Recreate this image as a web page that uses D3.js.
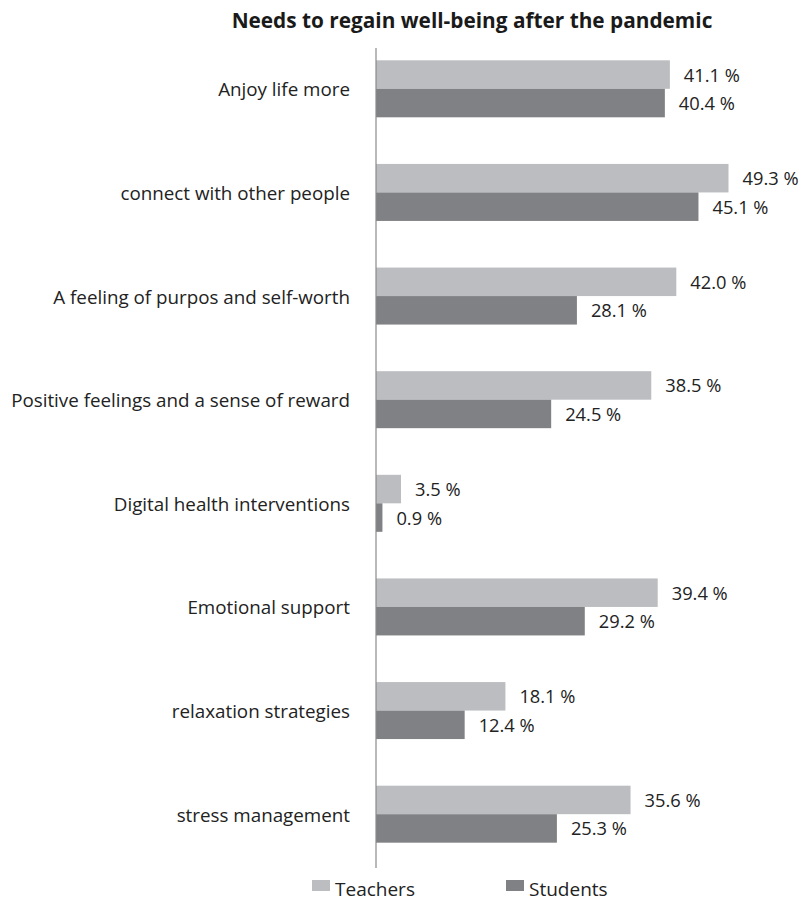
<!DOCTYPE html>
<html>
<head>
<meta charset="utf-8">
<script src="https://cdn.jsdelivr.net/npm/d3@7"></script>
<style>
  html, body { margin: 0; padding: 0; background: #fff; }
  svg { display: block; }
</style>
</head>
<body>
<svg id="chart" width="805" height="904"></svg>
<script>
// Survey categories and percentages per group
const categories = [
  "Anjoy life more",
  "connect with other people",
  "A feeling of purpos and self-worth",
  "Positive feelings and a sense of reward",
  "Digital health interventions",
  "Emotional support",
  "relaxation strategies",
  "stress management"
];
const teachers = [41.1, 49.3, 42.0, 38.5, 3.5, 39.4, 18.1, 35.6];
const students = [40.4, 45.1, 28.1, 24.5, 0.9, 29.2, 12.4, 25.3];
const seriesNames = ["Teachers", "Students"];
const seriesColors = ["#bcbdc0", "#808184"];

const font = "'Open Sans', 'Noto Sans', sans-serif";
const svg = d3.select("#chart");

const x = d3.scaleLinear().domain([0, 60]).range([376, 805]);
const y = d3.scaleBand().domain(categories).range([37, 866])
  .paddingInner(0.45).paddingOuter(0.225);
const sub = d3.scaleBand().domain(seriesNames).range([0, y.bandwidth()]);

// Title
svg.append("text")
  .attr("x", 472).attr("y", 28)
  .attr("text-anchor", "middle")
  .attr("font-family", font)
  .attr("font-weight", "bold")
  .attr("font-size", 20.8)
  .attr("fill", "#1a1a1a")
  .text("Needs to regain well-being after the pandemic");

const rows = categories.map((c, i) => ({ cat: c, values: [teachers[i], students[i]] }));

const groups = svg.append("g").selectAll("g")
  .data(rows).join("g")
  .attr("transform", d => `translate(0,${y(d.cat)})`);

groups.selectAll("rect")
  .data(d => d.values.map((v, j) => ({ v, s: seriesNames[j], j })))
  .join("rect")
  .attr("x", x(0))
  .attr("y", d => sub(d.s))
  .attr("width", d => x(d.v) - x(0))
  .attr("height", sub.bandwidth())
  .attr("fill", d => seriesColors[d.j]);

groups.selectAll("text.val")
  .data(d => d.values.map((v, j) => ({ v, s: seriesNames[j] })))
  .join("text")
  .attr("class", "val")
  .attr("x", d => x(d.v) + 14)
  .attr("y", d => sub(d.s) + sub.bandwidth() / 2 + 7)
  .attr("font-family", font)
  .attr("font-size", 18.3)
  .attr("fill", "#222")
  .text(d => d3.format(".1f")(d.v) + " %");

// Category labels
const yAxis = d3.axisLeft(y).tickSize(0).tickPadding(0);
const ax = svg.append("g").attr("transform", `translate(350,0)`).call(yAxis);
ax.select(".domain").remove();
ax.selectAll("text")
  .attr("font-family", font)
  .attr("font-size", 18.8)
  .attr("fill", "#222")
  .attr("dy", "0.4em");

// Vertical baseline
svg.append("line")
  .attr("x1", x(0)).attr("x2", x(0))
  .attr("y1", 48).attr("y2", 868)
  .attr("stroke", "#8a8a8a").attr("stroke-width", 1.2);

// Legend
const legendX = [312, 506];
const legend = svg.append("g").selectAll("g")
  .data(seriesNames).join("g")
  .attr("transform", (d, i) => `translate(${legendX[i]},0)`);
legend.append("rect")
  .attr("x", 0).attr("y", 880).attr("width", 18).attr("height", 11)
  .attr("fill", (d, i) => seriesColors[i]);
legend.append("text")
  .attr("x", 23).attr("y", 896)
  .attr("font-family", font)
  .attr("font-size", 19)
  .attr("fill", "#222")
  .text(d => d);
</script>
</body>
</html>
